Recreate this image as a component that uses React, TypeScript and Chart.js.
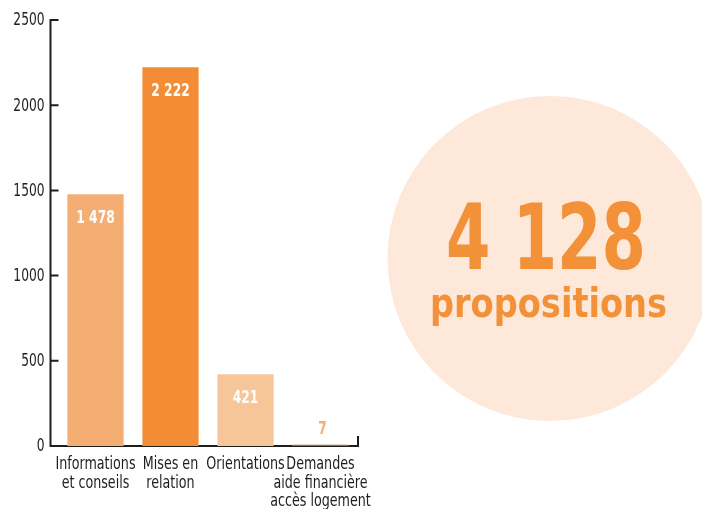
import { useEffect, useRef } from "react";
import { Chart, registerables } from "chart.js";

Chart.register(...registerables);

const categories: string[][] = [
  ["Informations", "et conseils"],
  ["Mises en", "relation"],
  ["Orientations"],
  ["Demandes", "aide financière", "accès logement"],
];
const values: number[] = [1478, 2222, 421, 7];
const barColors: string[] = ["#F4AE73", "#F28C35", "#F7C698", "#B8641F"];
const yMin = 0;
const yMax = 2500;
const yStep = 500;
const totalCaption = "propositions";

const FONT = '"DejaVu Sans Condensed", "DejaVu Sans", sans-serif';
const ORANGE = "#F29138";
const INK = "#1e1e1e";

const fmt = (v: number) => String(v).replace(/\B(?=(\d{3})+(?!\d))/g, " ");

function drawScaled(ctx: any, text: string, x: number, y: number, align: string, sx: number) {
  ctx.save();
  ctx.translate(x, y);
  ctx.scale(sx, 1);
  ctx.textAlign = align;
  ctx.fillText(text, 0, 0);
  ctx.restore();
}

const circlePlugin = {
  id: "circleBg",
  beforeDraw(chart: any) {
    const { ctx } = chart;
    ctx.save();
    ctx.fillStyle = "#FDE8D9";
    ctx.beginPath();
    ctx.arc(550, 258.5, 162.5, 0, Math.PI * 2);
    ctx.fill();
    ctx.restore();
  },
  afterDraw(chart: any) {
    const { ctx } = chart;
    const total = values.reduce((a, b) => a + b, 0);
    const drawFit = (text: string, size: number, cx: number, baseline: number, inkWidth: number) => {
      ctx.save();
      ctx.font = `bold ${size}px "DejaVu Sans", sans-serif`;
      ctx.textAlign = "center";
      ctx.textBaseline = "alphabetic";
      const m = ctx.measureText(text);
      const w = m.actualBoundingBoxLeft + m.actualBoundingBoxRight;
      const sx = inkWidth / w;
      ctx.translate(cx, baseline);
      ctx.scale(sx, 1);
      ctx.fillStyle = ORANGE;
      ctx.fillText(text, 0, 0);
      ctx.restore();
    };
    drawFit(fmt(total), 90, 546, 269, 194);
    drawFit(totalCaption, 40, 548.5, 317, 233);
  },
};

const axesPlugin = {
  id: "axesLines",
  beforeDatasetsDraw(chart: any) {
    const { ctx, chartArea, scales } = chart;
    const y = scales.y;
    const x = scales.x;
    const ax = chartArea.left - 7.5;
    const bottom = y.getPixelForValue(yMin);
    const top = y.getPixelForValue(yMax);
    ctx.save();
    ctx.strokeStyle = INK;
    ctx.lineWidth = 2;
    ctx.lineCap = "square";
    ctx.lineJoin = "miter";
    ctx.beginPath();
    ctx.moveTo(ax, top);
    ctx.lineTo(ax, bottom);
    ctx.lineTo(chartArea.right, bottom);
    ctx.lineTo(chartArea.right, bottom - 9);
    y.ticks.forEach((t: any) => {
      const py = y.getPixelForValue(t.value);
      ctx.moveTo(ax, py);
      ctx.lineTo(ax + 7, py);
    });
    ctx.stroke();

    // axis labels
    ctx.fillStyle = INK;
    ctx.font = `17px ${FONT}`;
    ctx.textBaseline = "middle";
    y.ticks.forEach((t: any) => {
      const py = y.getPixelForValue(t.value);
      drawScaled(ctx, String(t.value), ax - 6, py + 1, "right", 0.8);
    });
    categories.forEach((lines, i) => {
      const px = x.getPixelForTick(i);
      lines.forEach((ln, k) => {
        drawScaled(ctx, ln, px, bottom + 19 + k * 18.5, "center", 0.83);
      });
    });
    ctx.restore();
  },
};

const valueLabelPlugin = {
  id: "valueLabels",
  afterDatasetsDraw(chart: any) {
    const { ctx } = chart;
    const meta = chart.getDatasetMeta(0);
    ctx.save();
    ctx.font = `bold 17px ${FONT}`;
    ctx.textBaseline = "middle";
    meta.data.forEach((bar: any, i: number) => {
      const h = bar.base - bar.y;
      if (h > 40) {
        ctx.fillStyle = "#FFFFFF";
        drawScaled(ctx, fmt(values[i]), bar.x, bar.y + 24, "center", 0.8);
      } else {
        ctx.fillStyle = barColors[0];
        drawScaled(ctx, fmt(values[i]), bar.x + 2, bar.y - 15, "center", 0.8);
      }
    });
    ctx.restore();
  },
};

export default function App() {
  const ref = useRef<HTMLCanvasElement | null>(null);
  useEffect(() => {
    if (!ref.current) return;
    const chart = new Chart(ref.current, {
      type: "bar",
      data: {
        labels: categories,
        datasets: [
          {
            data: values,
            backgroundColor: barColors,
            borderWidth: 0,
            barPercentage: 0.75,
            categoryPercentage: 1,
          },
        ],
      },
      options: {
        responsive: false,
        animation: false,
        layout: { padding: { top: 20, right: 344, bottom: 0, left: 0 } },
        plugins: { legend: { display: false }, tooltip: { enabled: false } },
        scales: {
          x: {
            grid: { display: false },
            border: { display: false },
            ticks: { display: false },
            afterFit: (s: any) => {
              s.height = 63;
            },
          },
          y: {
            min: yMin,
            max: yMax,
            grid: { display: false },
            border: { display: false },
            ticks: { display: false, stepSize: yStep },
            afterFit: (s: any) => {
              s.width = 58;
            },
          },
        },
      },
      plugins: [circlePlugin, axesPlugin, valueLabelPlugin],
    });
    return () => chart.destroy();
  }, []);
  return (
    <div style={{ position: "fixed", left: 0, top: 0, width: 702, height: 509, overflow: "hidden", background: "#fff" }}>
      <canvas ref={ref} width={702} height={509} style={{ display: "block" }} />
    </div>
  );
}
